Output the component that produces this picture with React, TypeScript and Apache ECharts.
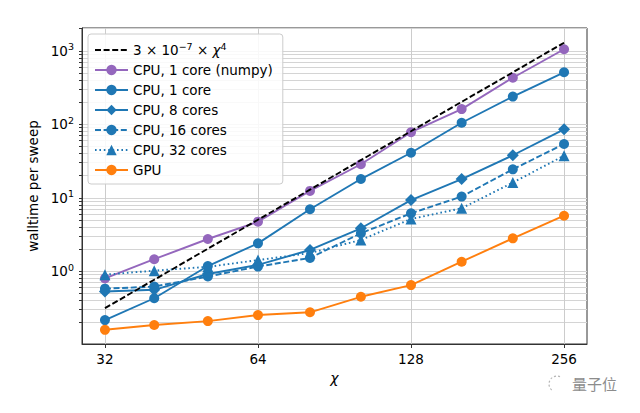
import React, { useEffect, useRef } from 'react';
import * as echarts from 'echarts';

// χ values (bond dimension)
const chi = [32, 40, 51, 64, 81, 102, 128, 161, 203, 256];
// reference curve 3e-7 * χ^4
const fitCurve = [0.315, 0.768, 2.03, 5.03, 12.9, 32.5, 80.5, 202, 509, 1288];
const cpuNumpy = [0.8, 1.46, 2.75, 4.73, 12.4, 28.6, 78, 161, 430, 1048];
const cpu1 = [0.217, 0.43, 1.18, 2.4, 6.98, 18.0, 41, 105, 238, 510];
const cpu8 = [0.53, 0.56, 0.92, 1.22, 1.95, 3.85, 9.3, 18.0, 37.9, 85.5];
const cpu16 = [0.58, 0.62, 0.85, 1.16, 1.52, 3.29, 6.15, 10.4, 24.4, 54];
const cpu32 = [0.9, 1.02, 1.15, 1.42, 1.77, 2.67, 5.15, 7.2, 16.1, 37.4];
const gpu = [0.16, 0.186, 0.21, 0.254, 0.277, 0.45, 0.65, 1.35, 2.81, 5.7];

const xTicks = [32, 64, 128, 256];
const yMajorExp = [0, 1, 2, 3];

const X_MIN = 4.85; // log2 of axis limits
const X_MAX = 8.15;
const Y_MIN = -0.989; // log10 of axis limits
const Y_MAX = 3.31;

const FONT = 'DejaVu Sans';
const BLUE = '#1f77b4';

const pts = (vals: number[]) => chi.map((c, i) => [Math.log2(c), Math.log10(vals[i])]);

export default function App() {
  const ref = useRef<HTMLDivElement>(null);
  useEffect(() => {
    const chart = echarts.init(ref.current!, null, { renderer: 'svg' });

    const yTickVals: number[] = [];
    for (let n = -1; n <= 3; n++) {
      for (let k = 1; k <= 9; k++) {
        const v = Math.log10(k) + n;
        if (v >= Y_MIN && v <= Y_MAX) yTickVals.push(v);
      }
    }
    const xTickVals = xTicks.map((t) => Math.log2(t));

    const mk = (name: string, vals: number[], color: string, symbol: string, size: number, lineType: any) => ({
      name,
      type: 'line',
      data: pts(vals),
      symbol,
      symbolSize: size,
      showSymbol: true,
      lineStyle: { color, width: 1.9, type: lineType },
      itemStyle: { color, borderWidth: 0 },
      emphasis: { disabled: true },
      z: 3,
    });

    const option: any = {
      animation: false,
      backgroundColor: '#fff',
      textStyle: { fontFamily: FONT },
      grid: {
        left: 82,
        right: 53,
        top: 28,
        bottom: 69,
        show: true,
        borderColor: '#333',
        borderWidth: 1,
        backgroundColor: 'transparent',
      },
      legend: {
        orient: 'vertical',
        left: 88,
        top: 34,
        itemWidth: 33,
        itemHeight: 13,
        itemGap: 4,
        padding: [7, 10, 6, 6],
        backgroundColor: 'rgba(255,255,255,0.85)',
        borderColor: '#ccc',
        borderWidth: 1,
        borderRadius: 3,
        textStyle: {
          fontFamily: FONT,
          fontSize: 13.5,
          color: '#000',
          lineHeight: 16,
          rich: {
            b: { fontFamily: FONT, fontSize: 13.5, color: '#000' },
            sup: { fontFamily: FONT, fontSize: 9.5, color: '#000', padding: [0, 0, 8, 0] },
            it: { fontFamily: FONT, fontSize: 13.5, fontStyle: 'italic', color: '#000' },
          },
        },
        formatter: (name: string) =>
          name === 'fit' ? '{b|3 × 10}{sup|−7}{b| × }{it|χ}{sup|4}' : name,
        data: [
          { name: 'fit', itemStyle: { opacity: 0 } },
          'CPU, 1 core (numpy)',
          'CPU, 1 core',
          'CPU, 8 cores',
          'CPU, 16 cores',
          'CPU, 32 cores',
          'GPU',
        ],
      },
      xAxis: {
        type: 'value',
        min: X_MIN,
        max: X_MAX,
        name: 'χ',
        nameLocation: 'middle',
        nameGap: 27,
        nameTextStyle: { fontFamily: FONT, fontSize: 14, fontStyle: 'italic', color: '#000' },
        axisLine: { show: true, onZero: false, lineStyle: { color: '#333', width: 1 } },
        axisTick: { show: true, length: 4, customValues: xTickVals, lineStyle: { color: '#333' } },
        axisLabel: {
          customValues: xTickVals,
          margin: 8,
          fontFamily: FONT,
          fontSize: 13.5,
          color: '#000',
          formatter: (v: number) => String(Math.round(Math.pow(2, v))),
        },
        splitLine: { show: true, lineStyle: { color: '#cccccc', width: 1 } },
      },
      yAxis: {
        type: 'value',
        min: Y_MIN,
        max: Y_MAX,
        name: 'walltime per sweep',
        nameLocation: 'middle',
        nameGap: 38,
        nameTextStyle: { fontFamily: FONT, fontSize: 13.5, color: '#000' },
        axisLine: { show: true, onZero: false, lineStyle: { color: '#333', width: 1 } },
        axisTick: { show: true, length: 3, customValues: yTickVals, lineStyle: { color: '#333' } },
        axisLabel: {
          customValues: yMajorExp,
          margin: 8,
          color: '#000',
          formatter: (v: number) => '{b|10}{sup|' + Math.round(v) + '}',
          rich: {
            b: { fontFamily: FONT, fontSize: 13.5, color: '#000' },
            sup: { fontFamily: FONT, fontSize: 9.5, color: '#000', padding: [0, 0, 8, 0] },
          },
        },
        splitLine: { show: true, lineStyle: { color: '#d4d4d4', width: 1 } },
      },
      series: [
        mk('CPU, 1 core (numpy)', cpuNumpy, '#9467bd', 'circle', 10, 'solid'),
        mk('CPU, 1 core', cpu1, BLUE, 'circle', 10, 'solid'),
        mk('CPU, 8 cores', cpu8, BLUE, 'diamond', 12, 'solid'),
        mk('CPU, 16 cores', cpu16, BLUE, 'circle', 10, [6, 2.6]),
        mk('CPU, 32 cores', cpu32, BLUE, 'triangle', 11, [1.6, 2.8]),
        mk('GPU', gpu, '#ff7f0e', 'circle', 10, 'solid'),
        {
          name: 'fit',
          type: 'line',
          data: pts(fitCurve),
          symbol: 'none',
          showSymbol: false,
          lineStyle: { color: '#000', width: 1.9, type: [6, 2.6] },
          itemStyle: { color: '#000' },
          emphasis: { disabled: true },
          z: 4,
        },
      ],
      graphic: [
        {
          type: 'arc',
          shape: { cx: 557, cy: 384, r: 8, startAngle: 2.3, endAngle: 5.3 },
          style: { stroke: '#b5b5b5', lineWidth: 1.2, fill: 'none', lineDash: [2, 2] },
          silent: true,
        },
        {
          type: 'text',
          left: 572,
          top: 376,
          style: {
            text: '量子位',
            fontFamily: 'Noto Sans CJK SC',
            fontSize: 15,
            fill: '#8c8c8c',
          },
        },
      ],
    };

    chart.setOption(option);
    return () => chart.dispose();
  }, []);

  return (
    <div
      ref={ref}
      style={{ position: 'fixed', left: 0, top: 0, width: 640, height: 413, background: '#fff' }}
    />
  );
}
